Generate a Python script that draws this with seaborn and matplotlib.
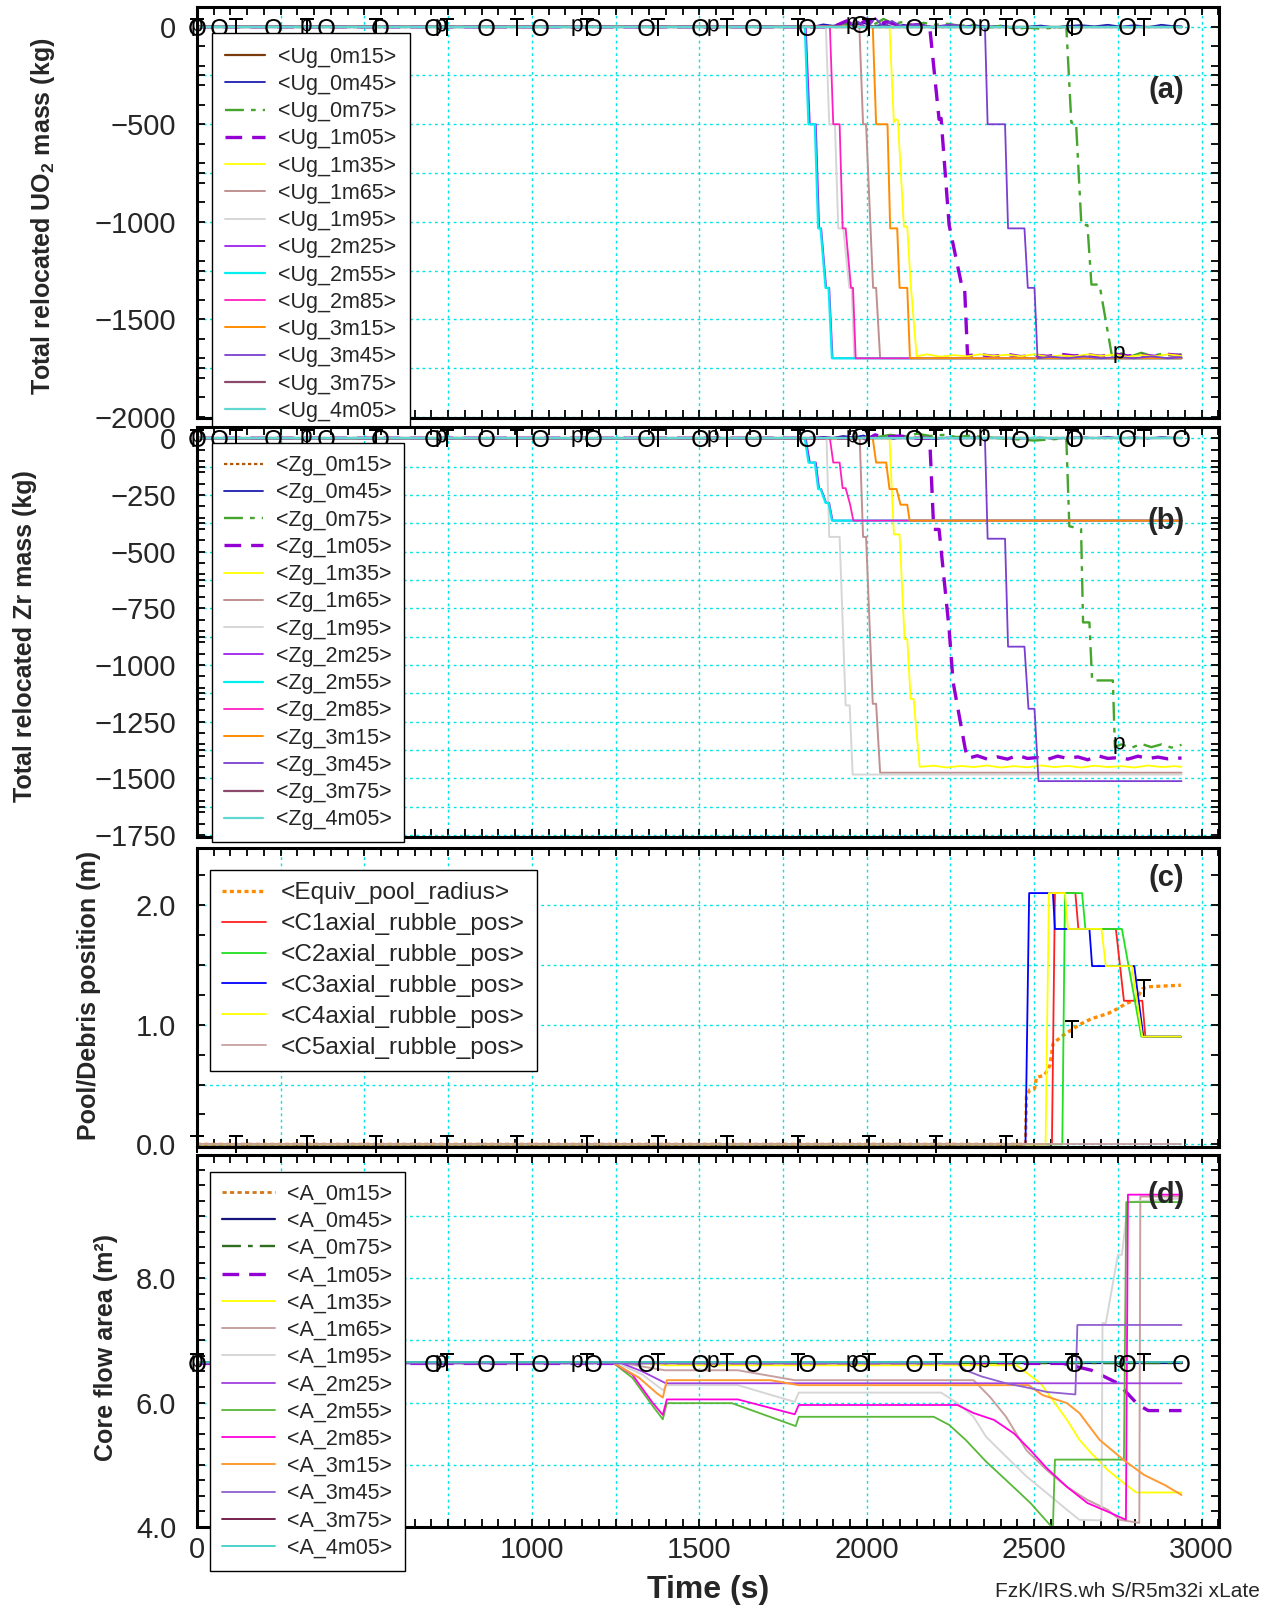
import numpy as np
import matplotlib
matplotlib.use("Agg")
import matplotlib.pyplot as plt
from matplotlib.ticker import MultipleLocator, FuncFormatter, NullFormatter
import seaborn as sns

# ------------------------------------------------------------------ data
NODES = ["0m15", "0m45", "0m75", "1m05", "1m35", "1m65", "1m95",
         "2m25", "2m55", "2m85", "3m15", "3m45", "3m75", "4m05"]

T_CONST = [0, 2940]

# marker positions along the first three series (s)
MARK_T = [0, 116, 328, 536, 748, 956, 1165, 1376, 1584, 1796, 2007, 2207, 2415, 2614, 2829]
MARK_O = [0, 66, 226, 385, 545, 704, 864, 1023, 1183, 1342, 1502, 1661, 1821, 1980,
          2140, 2299, 2459, 2618, 2778, 2937]
MARK_P = [0, 326, 728, 1135, 1540, 1955, 2350, 2752]

# ---- panel (a): total relocated UO2 mass (kg)
UG_0M15_T = T_CONST
UG_0M15 = [0, 0]
UG_0M45_T = [0, 1840, 1870, 1900, 1930, 1960, 1990, 2020, 2050, 2080, 2110, 2140, 2170, 2200,
             2240, 2280, 2320, 2360, 2400, 2440, 2480, 2520, 2560, 2600, 2640, 2680, 2720,
             2760, 2800, 2840, 2880, 2910, 2940]
UG_0M45 = [0, 0, 12, 5, 18, 8, 20, 2, 12, -3, 10, 0, 8, -5, 6, -2, 8, 0, 5, -4, 0, 6, -3, 4,
           8, 2, 10, 0, 8, -2, 10, 4, 2]
UG_0M75_T = [0, 1900, 1930, 1960, 1990, 2020, 2050, 2080, 2110, 2140, 2170, 2200, 2240, 2280,
             2320, 2360, 2400, 2440, 2480, 2520, 2560, 2596, 2611, 2625, 2641, 2659, 2671,
             2695, 2732, 2760, 2790, 2820, 2850, 2880, 2910, 2940]
UG_0M75 = [0, 0, 15, 5, 30, 10, 40, 15, 25, 5, 20, 10, 15, 5, 10, -5, 5, -10, -5, -10, -5, 0,
           -492, -492, -1017, -1017, -1322, -1322, -1686, -1675, -1690, -1672, -1688, -1678,
           -1686, -1680]
UG_1M05_T = [0, 1900, 1940, 1970, 2000, 2030, 2060, 2100, 2150, 2188, 2216, 2222, 2246, 2283,
             2292, 2301, 2340, 2380, 2420, 2460, 2500, 2540, 2580, 2620, 2660, 2700, 2740,
             2780, 2820, 2860, 2900, 2940]
UG_1M05 = [0, 0, 30, -5, 40, 10, 25, 5, 10, 0, -475, -470, -1017, -1322, -1330, -1686, -1682,
           -1690, -1680, -1692, -1684, -1690, -1680, -1688, -1682, -1690, -1678, -1688, -1684,
           -1690, -1680, -1686]
UG_1M35_T = [0, 2068, 2081, 2087, 2093, 2111, 2121, 2131, 2149, 2180, 2220, 2260, 2300, 2340,
             2380, 2420, 2460, 2500, 2540, 2580, 2620, 2660, 2700, 2740, 2780, 2820, 2860,
             2900, 2940]
UG_1M35 = [0, 0, -490, -475, -480, -1025, -1025, -1314, -1690, -1680, -1692, -1684, -1690,
           -1680, -1688, -1682, -1690, -1680, -1692, -1686, -1690, -1680, -1688, -1682, -1692,
           -1684, -1690, -1680, -1688]
UG_1M65_T = [0, 1978, 1989, 1998, 2019, 2028, 2040, 2940]
UG_1M65 = [0, 0, -500, -500, -1339, -1339, -1700, -1700]
UG_1M95_T = [0, 1878, 1888, 1905, 1915, 1930, 1948, 1955, 1963, 2940]
UG_1M95 = [0, 0, -500, -500, -1034, -1034, -1339, -1339, -1700, -1700]
UG_2M25_T = [0, 1818, 1830, 1848, 1858, 1864, 1879, 1888, 1898, 2940]
UG_2M25 = [0, 0, -500, -500, -1034, -1034, -1339, -1339, -1700, -1700]
UG_2M55_T = [0, 1815, 1826, 1845, 1855, 1862, 1877, 1886, 1896, 2940]
UG_2M55 = [0, 0, -500, -500, -1034, -1034, -1339, -1339, -1700, -1700]
UG_2M85_T = [0, 1890, 1900, 1919, 1928, 1937, 1953, 1959, 1967, 2940]
UG_2M85 = [0, 0, -500, -500, -1034, -1034, -1339, -1339, -1700, -1700]
UG_3M15_T = [0, 2018, 2028, 2062, 2070, 2091, 2098, 2121, 2129, 2940]
UG_3M15 = [0, 0, -500, -500, -1034, -1034, -1339, -1339, -1700, -1700]
UG_3M45_T = [0, 1950, 1975, 2000, 2025, 2050, 2075, 2100, 2150, 2200, 2250, 2300, 2353, 2361,
             2413, 2422, 2471, 2481, 2501, 2510, 2550, 2600, 2650, 2700, 2750, 2800, 2850,
             2900, 2940]
UG_3M45 = [0, 0, 25, -5, 45, 0, 30, 5, 10, 0, 12, 0, 0, -500, -500, -1034, -1034, -1339,
           -1339, -1700, -1692, -1700, -1690, -1700, -1694, -1700, -1690, -1700, -1695]
UG_3M75_T = T_CONST
UG_3M75 = [0, 0]
UG_4M05_T = T_CONST
UG_4M05 = [0, 0]

# ---- panel (b): total relocated Zr mass (kg)
ZG_0M15_T = T_CONST
ZG_0M15 = [0, 0]
ZG_0M45_T = UG_0M45_T
ZG_0M45 = [0, 0, 6, 2, 10, 4, 12, 0, 6, -2, 5, 0, 4, -3, 3, -1, 4, 0, 3, -2, 0, 3, -2, 2, 4,
           1, 5, 0, 4, -1, 5, 2, 1]
ZG_0M75_T = [0, 1950, 1990, 2030, 2070, 2110, 2150, 2190, 2230, 2270, 2310, 2350, 2400, 2450,
             2500, 2550, 2596, 2605, 2640, 2646, 2665, 2673, 2735, 2741, 2760, 2790, 2820,
             2850, 2880, 2910, 2940]
ZG_0M75 = [0, 0, 10, 5, 15, 8, 20, 10, 15, 5, 12, 5, 0, -5, -10, -5, 0, -388, -400, -812,
           -812, -1068, -1068, -1361, -1350, -1365, -1348, -1362, -1350, -1364, -1352]
ZG_1M05_T = [0, 1950, 1975, 2000, 2025, 2050, 2100, 2150, 2188, 2200, 2216, 2246, 2258, 2294,
             2301, 2330, 2360, 2390, 2420, 2450, 2480, 2510, 2540, 2570, 2600, 2630, 2660,
             2690, 2720, 2750, 2780, 2810, 2840, 2870, 2900, 2940]
ZG_1M05 = [0, 0, 10, -5, 15, 5, 10, 0, 0, -402, -402, -842, -1076, -1369, -1412, -1400,
           -1415, -1405, -1415, -1398, -1412, -1408, -1416, -1402, -1412, -1405, -1418, -1400,
           -1412, -1408, -1415, -1402, -1412, -1406, -1414, -1410]
ZG_1M35_T = [0, 2068, 2081, 2098, 2113, 2121, 2131, 2140, 2158, 2200, 2240, 2280, 2320, 2360,
             2400, 2440, 2480, 2520, 2560, 2600, 2640, 2680, 2720, 2760, 2800, 2840, 2880,
             2920, 2940]
ZG_1M35 = [0, 0, -424, -424, -885, -885, -1149, -1149, -1449, -1444, -1452, -1445, -1450,
           -1443, -1452, -1446, -1451, -1443, -1450, -1445, -1452, -1444, -1450, -1446, -1452,
           -1443, -1450, -1446, -1449]
ZG_1M65_T = [0, 1979, 1989, 1998, 2018, 2028, 2040, 2940]
ZG_1M65 = [0, 0, -435, -435, -1171, -1171, -1475, -1475]
ZG_1M95_T = [0, 1880, 1888, 1919, 1937, 1949, 1958, 2940]
ZG_1M95 = [0, 0, -435, -435, -1178, -1178, -1483, -1483]
ZG_2M25_T = [0, 1818, 1830, 1848, 1858, 1864, 1879, 1888, 1898, 2940]
ZG_2M25 = [0, 0, -107, -107, -224, -224, -285, -285, -363, -363]
ZG_2M55_T = [0, 1815, 1826, 1845, 1855, 1862, 1877, 1886, 1896, 2940]
ZG_2M55 = [0, 0, -107, -107, -224, -224, -285, -285, -363, -363]
ZG_2M85_T = [0, 1890, 1900, 1919, 1928, 1937, 1950, 1960, 2940]
ZG_2M85 = [0, 0, -107, -107, -220, -220, -290, -363, -363]
ZG_3M15_T = [0, 2018, 2028, 2058, 2068, 2089, 2101, 2121, 2128, 2940]
ZG_3M15 = [0, 0, -107, -107, -224, -224, -293, -293, -363, -363]
ZG_3M45_T = [0, 2353, 2361, 2413, 2422, 2471, 2483, 2501, 2513, 2940]
ZG_3M45 = [0, 0, -443, -443, -919, -919, -1193, -1193, -1512, -1512]
ZG_3M75_T = T_CONST
ZG_3M75 = [0, 0]
ZG_4M05_T = T_CONST
ZG_4M05 = [0, 0]

# ---- panel (c): pool / debris position (m)
C_LABELS = ["<Equiv_pool_radius>", "<C1axial_rubble_pos>", "<C2axial_rubble_pos>",
            "<C3axial_rubble_pos>", "<C4axial_rubble_pos>", "<C5axial_rubble_pos>"]
POOL_T = [0, 2474, 2477, 2487, 2501, 2507, 2531, 2547, 2556, 2562, 2586, 2610, 2635, 2671,
          2720, 2750, 2774, 2805, 2823, 2841, 2938]
POOL = [0, 0, 0.40, 0.457, 0.466, 0.56, 0.577, 0.66, 0.84, 0.856, 0.91, 0.954, 1.0, 1.05,
        1.093, 1.135, 1.177, 1.21, 1.30, 1.317, 1.33]
C1_T = [0, 2553, 2562, 2623, 2632, 2744, 2768, 2823, 2832, 2938]
C1 = [0, 0, 2.1, 2.1, 1.8, 1.8, 1.2, 1.2, 0.9, 0.9]
C2_T = [0, 2584, 2592, 2643, 2653, 2762, 2820, 2938]
C2 = [0, 0, 2.1, 2.1, 1.8, 1.8, 0.9, 0.9]
C3_T = [0, 2474, 2485, 2556, 2562, 2665, 2673, 2799, 2812, 2826, 2938]
C3 = [0, 0, 2.1, 2.1, 1.8, 1.8, 1.49, 1.49, 1.2, 0.9, 0.9]
C4_T = [0, 2534, 2544, 2592, 2601, 2701, 2714, 2792, 2807, 2823, 2938]
C4 = [0, 0, 2.1, 2.1, 1.8, 1.8, 1.49, 1.49, 1.2, 0.9, 0.9]
C5_T = [0, 2938]
C5 = [0, 0]

# ---- panel (d): core flow area (m2)
A_0M15_T = T_CONST
A_0M15 = [6.65, 6.65]
A_0M45_T = T_CONST
A_0M45 = [6.64, 6.64]
A_0M75_T = T_CONST
A_0M75 = [6.64, 6.64]
A_1M05_T = [0, 2586, 2671, 2750, 2811, 2841, 2940]
A_1M05 = [6.63, 6.63, 6.52, 6.31, 5.96, 5.87, 5.87]
A_1M35_T = [0, 1300, 1400, 2447, 2519, 2562, 2598, 2635, 2671, 2720, 2768, 2805, 2940]
A_1M35 = [6.65, 6.65, 6.60, 6.60, 6.31, 5.99, 5.72, 5.40, 5.18, 4.91, 4.70, 4.55, 4.55]
A_1M65_T = [0, 1260, 1330, 1397, 1615, 1785, 2319, 2368, 2416, 2477, 2538, 2598, 2659, 2720,
            2756, 2814, 2817, 2940]
A_1M65 = [6.65, 6.65, 6.58, 6.52, 6.52, 6.36, 6.36, 6.09, 5.77, 5.23, 4.91, 4.64, 4.43, 4.27,
          4.11, 4.06, 9.32, 9.32]
A_1M95_T = [0, 1250, 1330, 1391, 1403, 1615, 1785, 1797, 2222, 2271, 2319, 2356, 2416, 2477,
            2538, 2598, 2635, 2701, 2704, 2714, 2750, 2762, 2780, 2940]
A_1M95 = [6.65, 6.65, 6.45, 6.2, 6.28, 6.28, 6.01, 6.16, 6.16, 5.99, 5.77, 5.45, 5.13, 4.81,
          4.54, 4.27, 4.11, 4.10, 7.28, 7.28, 8.38, 8.38, 9.23, 9.29]
A_2M25_T = [0, 1260, 1330, 1400, 2940]
A_2M25 = [6.65, 6.65, 6.5, 6.31, 6.31]
A_2M55_T = [0, 1240, 1300, 1360, 1391, 1403, 1597, 1788, 1797, 2200, 2246, 2295, 2356, 2416,
            2489, 2550, 2556, 2562, 2768, 2775, 2940]
A_2M55 = [6.65, 6.65, 6.4, 5.95, 5.73, 5.99, 5.99, 5.62, 5.77, 5.77, 5.64, 5.40, 5.05, 4.75,
          4.38, 4.01, 4.0, 5.08, 5.08, 9.23, 9.23]
A_2M85_T = [0, 1240, 1300, 1360, 1391, 1403, 1615, 1785, 1797, 2271, 2319, 2380, 2440, 2489,
            2538, 2598, 2659, 2720, 2774, 2780, 2940]
A_2M85 = [6.65, 6.65, 6.45, 6.0, 5.80, 6.05, 6.05, 5.81, 5.96, 5.96, 5.83, 5.72, 5.50, 5.23,
          4.94, 4.64, 4.38, 4.24, 4.11, 9.35, 9.35]
A_3M15_T = [0, 1240, 1320, 1373, 1391, 1403, 1712, 1797, 2483, 2525, 2598, 2635, 2695, 2768,
            2829, 2890, 2940]
A_3M15 = [6.65, 6.65, 6.4, 6.15, 6.08, 6.36, 6.36, 6.28, 6.28, 6.12, 5.99, 5.83, 5.40, 5.07,
          4.83, 4.67, 4.51]
A_3M45_T = [0, 2271, 2295, 2343, 2416, 2489, 2538, 2623, 2629, 2940]
A_3M45 = [6.63, 6.63, 6.52, 6.42, 6.31, 6.23, 6.17, 6.13, 7.25, 7.25]
A_3M75_T = T_CONST
A_3M75 = [6.65, 6.65]
A_4M05_T = T_CONST
A_4M05 = [6.65, 6.65]

# ------------------------------------------------------------------ style
sns.set_style("ticks")
plt.rcParams["font.family"] = ["Liberation Sans", "DejaVu Sans"]
plt.rcParams["mathtext.fontset"] = "custom"
plt.rcParams["mathtext.rm"] = "Liberation Sans"
plt.rcParams["mathtext.bf"] = "Liberation Sans:bold"
plt.rcParams["mathtext.it"] = "Liberation Sans:italic"
plt.rcParams["axes.unicode_minus"] = True

DOT = (0, (1.5, 1.2))
DASHDOT = (0, (8, 3, 2, 3))
DASH = (0, (5, 3))

STY_AB = [("#7a3c0c", "-", 1.6), ("#1c1cb0", "-", 1.3), ("#45a52c", DASHDOT, 1.7),
          ("#9400d3", DASH, 2.4), ("#ffff00", "-", 1.3), ("#c09090", "-", 1.4),
          ("#d6d6d6", "-", 1.4), ("#a020f0", "-", 1.3), ("#00f0f0", "-", 1.6),
          ("#ff20c0", "-", 1.3), ("#ff8c00", "-", 1.4), ("#7a3fd0", "-", 1.3),
          ("#8b4a6b", "-", 1.6), ("#60d8d0", "-", 1.6)]
STY_B = list(STY_AB)
STY_B[0] = ("#b05a10", DOT, 1.6)
STY_D = [("#d0781a", DOT, 2.0), ("#14147a", "-", 1.6), ("#2e6e1e", DASHDOT, 1.7),
         ("#9400d3", DASH, 2.4), ("#ffff00", "-", 1.3), ("#c8a0a0", "-", 1.4),
         ("#d6d6d6", "-", 1.4), ("#a040e0", "-", 1.3), ("#58b838", "-", 1.3),
         ("#ff00dd", "-", 1.3), ("#ff9933", "-", 1.4), ("#9060d0", "-", 1.3),
         ("#6a1040", "-", 1.3), ("#40d0c8", "-", 1.3)]
STY_C = [("#ff8c00", (0, (1.2, 1.0)), 2.4), ("#ff2020", "-", 1.3), ("#20e020", "-", 1.3),
         ("#0000ff", "-", 1.3), ("#ffff00", "-", 1.3), ("#c8a0a0", "-", 1.3)]

fig = plt.figure(figsize=(12.78, 16.09), dpi=100)
L, W = 0.15415, 0.7997
ax_a = fig.add_axes([L, 0.7405, W, 0.2550])
ax_b = fig.add_axes([L, 0.4800, W, 0.2548])
ax_c = fig.add_axes([L, 0.2873, W, 0.1859])
ax_d = fig.add_axes([L, 0.0512, W, 0.2310])


def step_formatter(step, dec):
    def f(v, pos):
        k = v / step
        if abs(k - round(k)) < 1e-6:
            if abs(v) < 1e-9:
                v = 0.0
            return f"{v:.{dec}f}".replace("-", "\u2212")
        return ""
    return FuncFormatter(f)


def setup(ax, ylim, ymaj, ylab_step, ymin, dec, show_x):
    ax.set_xlim(0, 3052)
    ax.set_ylim(*ylim)
    ax.xaxis.set_major_locator(MultipleLocator(250))
    ax.xaxis.set_minor_locator(MultipleLocator(50))
    ax.yaxis.set_major_locator(MultipleLocator(ymaj))
    ax.yaxis.set_minor_locator(MultipleLocator(ymin))
    ax.yaxis.set_major_formatter(step_formatter(ylab_step, dec))
    if show_x:
        ax.xaxis.set_major_formatter(step_formatter(500, 0))
    else:
        ax.xaxis.set_major_formatter(NullFormatter())
    ax.tick_params(which="both", direction="in", top=True, right=True, length=6,
                   width=1.3, labelsize=21, color="black")
    ax.tick_params(axis="y", pad=15)
    ax.tick_params(axis="x", pad=7)
    ax.grid(True, which="major", color="#00e5e5", linestyle=(0, (2, 2.5)), linewidth=1.0)
    ax.set_axisbelow(True)
    for sp in ax.spines.values():
        sp.set_linewidth(2.2)
        sp.set_color("black")
    ax.set_xlabel("")


def draw(ax, series, styles):
    handles = []
    for (t, v), (c, ls, lw) in zip(series, styles):
        sns.lineplot(x=t, y=v, ax=ax, color=c, linestyle=ls, linewidth=lw,
                     estimator=None, sort=False, legend=False)
        handles.append(ax.lines[-1])
    return handles


def marks(ax, pos, t, v, sym):
    y = np.interp(pos, t, v)
    sns.scatterplot(x=pos, y=y, ax=ax, marker=sym, s=150, color="black", linewidth=0,
                    zorder=6, clip_on=False, legend=False)


def legend(ax, handles, labels, anchor, fs, hl, spacing, bpad):
    lg = ax.legend(handles, labels, loc="upper left", bbox_to_anchor=anchor,
                   borderaxespad=0, fontsize=fs, handlelength=hl, handletextpad=0.6,
                   borderpad=bpad, labelspacing=spacing, frameon=True, fancybox=False,
                   edgecolor="black", framealpha=1)
    lg.get_frame().set_linewidth(1.0)
    lg.set_zorder(10)
    return lg


SYM_T, SYM_O, SYM_P = r"$\mathrm{T}$", r"$\mathrm{O}$", r"$\mathrm{p}$"

# ---- (a)
ser_a = [(UG_0M15_T, UG_0M15), (UG_0M45_T, UG_0M45), (UG_0M75_T, UG_0M75),
         (UG_1M05_T, UG_1M05), (UG_1M35_T, UG_1M35), (UG_1M65_T, UG_1M65),
         (UG_1M95_T, UG_1M95), (UG_2M25_T, UG_2M25), (UG_2M55_T, UG_2M55),
         (UG_2M85_T, UG_2M85), (UG_3M15_T, UG_3M15), (UG_3M45_T, UG_3M45),
         (UG_3M75_T, UG_3M75), (UG_4M05_T, UG_4M05)]
h = draw(ax_a, ser_a, STY_AB)
marks(ax_a, MARK_T, *ser_a[0], SYM_T)
marks(ax_a, MARK_O, *ser_a[1], SYM_O)
marks(ax_a, MARK_P, *ser_a[2], SYM_P)
setup(ax_a, (-2004, 100), 250, 500, 100, 0, False)
legend(ax_a, h, [f"<Ug_{n}>" for n in NODES], (0.0144, 0.9366), 15.5, 1.85, 0.29, 0.62)
ax_a.set_ylabel(r"Total relocated UO$_\mathbf{2}$ mass (kg)", fontsize=18, fontweight="bold")
ax_a.yaxis.set_label_coords(-0.137, 0.49)
ax_a.text(0.948, 0.798, "(a)", transform=ax_a.transAxes, ha="center", va="center",
          fontsize=21, fontweight="bold")

# ---- (b)
ser_b = [(ZG_0M15_T, ZG_0M15), (ZG_0M45_T, ZG_0M45), (ZG_0M75_T, ZG_0M75),
         (ZG_1M05_T, ZG_1M05), (ZG_1M35_T, ZG_1M35), (ZG_1M65_T, ZG_1M65),
         (ZG_1M95_T, ZG_1M95), (ZG_2M25_T, ZG_2M25), (ZG_2M55_T, ZG_2M55),
         (ZG_2M85_T, ZG_2M85), (ZG_3M15_T, ZG_3M15), (ZG_3M45_T, ZG_3M45),
         (ZG_3M75_T, ZG_3M75), (ZG_4M05_T, ZG_4M05)]
h = draw(ax_b, ser_b, STY_B)
marks(ax_b, MARK_T, *ser_b[0], SYM_T)
marks(ax_b, MARK_O, *ser_b[1], SYM_O)
marks(ax_b, MARK_P, *ser_b[2], SYM_P)
setup(ax_b, (-1757, 51), 125, 250, 50, 0, False)
legend(ax_b, h, [f"<Zg_{n}>" for n in NODES], (0.0144, 0.9595), 15.5, 1.85, 0.29, 0.55)
ax_b.set_ylabel("Total relocated Zr mass (kg)", fontsize=18, fontweight="bold")
ax_b.yaxis.set_label_coords(-0.157, 0.49)
ax_b.text(0.948, 0.771, "(b)", transform=ax_b.transAxes, ha="center", va="center",
          fontsize=21, fontweight="bold")

# ---- (c)
ser_c = [(POOL_T, POOL), (C1_T, C1), (C2_T, C2), (C3_T, C3), (C4_T, C4), (C5_T, C5)]
h = draw(ax_c, ser_c, STY_C)
marks(ax_c, MARK_T, *ser_c[0], SYM_T)
setup(ax_c, (-0.02, 2.48), 0.5, 1.0, 0.25, 1, False)
legend(ax_c, h, C_LABELS, (0.0127, 0.9254), 17.6, 1.8, 0.36, 0.5)
ax_c.set_ylabel("Pool/Debris position (m)", fontsize=18, fontweight="bold")
ax_c.yaxis.set_label_coords(-0.094, 0.507)
ax_c.text(0.948, 0.898, "(c)", transform=ax_c.transAxes, ha="center", va="center",
          fontsize=21, fontweight="bold")

# ---- (d)
ser_d = [(A_0M15_T, A_0M15), (A_0M45_T, A_0M45), (A_0M75_T, A_0M75), (A_1M05_T, A_1M05),
         (A_1M35_T, A_1M35), (A_1M65_T, A_1M65), (A_1M95_T, A_1M95), (A_2M25_T, A_2M25),
         (A_2M55_T, A_2M55), (A_2M85_T, A_2M85), (A_3M15_T, A_3M15), (A_3M45_T, A_3M45),
         (A_3M75_T, A_3M75), (A_4M05_T, A_4M05)]
h = draw(ax_d, ser_d, STY_D)
marks(ax_d, MARK_T, *ser_d[0], SYM_T)
marks(ax_d, MARK_O, *ser_d[1], SYM_O)
marks(ax_d, MARK_P, *ser_d[2], SYM_P)
setup(ax_d, (4.0, 9.99), 1.0, 2.0, 0.25, 1, True)
legend(ax_d, h, [f"<A_{n}>" for n in NODES], (0.0127, 0.955), 15.5, 2.45, 0.29, 0.55)
ax_d.set_ylabel("Core flow area (m\u00b2)", fontsize=18, fontweight="bold")
ax_d.yaxis.set_label_coords(-0.077, 0.482)
ax_d.text(0.948, 0.893, "(d)", transform=ax_d.transAxes, ha="center", va="center",
          fontsize=21, fontweight="bold")
ax_d.set_xlabel("Time (s)", fontsize=23, fontweight="bold")
ax_d.xaxis.set_label_coords(0.5, -0.13)

fig.text(0.986, 0.0106, "FzK/IRS.wh S/R5m32i xLate", ha="right", va="center", fontsize=15)

fig.savefig("out.png", dpi=100)
